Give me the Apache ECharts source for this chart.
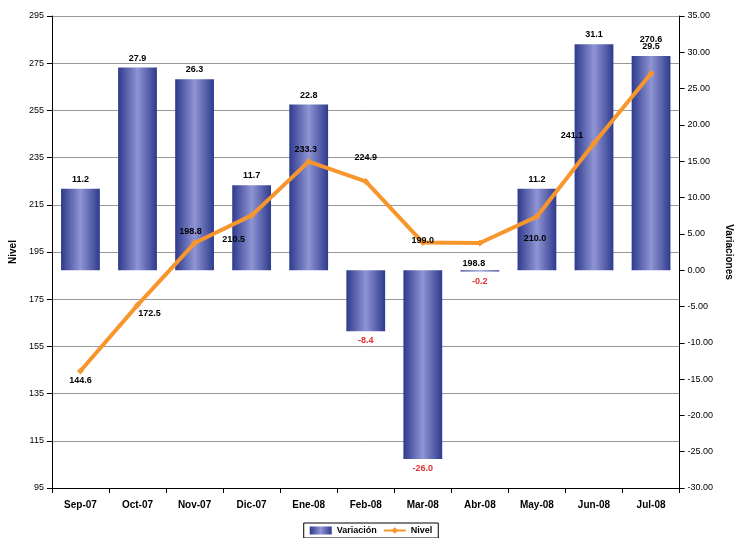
<!DOCTYPE html>
<html><head><meta charset="utf-8">
<script src="https://cdn.jsdelivr.net/npm/echarts@6/dist/echarts.min.js"></script>
<style>html,body{margin:0;padding:0;background:#fff}#c{width:742px;height:538px}</style>
</head><body><div id="c"></div>
<script>
const categories=['Sep-07','Oct-07','Nov-07','Dic-07','Ene-08','Feb-08','Mar-08','Abr-08','May-08','Jun-08','Jul-08'];
const variacion=[11.2,27.9,26.3,11.7,22.8,-8.4,-26.0,-0.2,11.2,31.1,29.5];
const nivel=[144.6,172.5,198.8,210.5,233.3,224.9,199.0,198.8,210.0,241.1,270.6];
const nivelLabelOffsets=[[0,10],[12,8],[-4,-12],[-18,24],[-3,-12],[0,-24],[0,-2],[-6,20],[-2,22],[-22,-8],[0,-34]];
const chart=echarts.init(document.getElementById('c'));
const ff='Liberation Sans';
chart.setOption({
  animation:false,
  textStyle:{fontFamily:ff},
  grid:{left:48,right:56,top:16,bottom:50},
  legend:{bottom:0,left:'center',itemGap:6,itemWidth:22,itemHeight:8,borderColor:'#000',borderWidth:1,padding:[3,6],
    textStyle:{fontSize:9,fontWeight:'bold',color:'#000'},
    data:[{name:'Variación',icon:'rect'},{name:'Nivel'}]},
  xAxis:{type:'category',data:categories,axisTick:{show:true,lineStyle:{color:'#000'}},
    axisLine:{onZero:false,lineStyle:{color:'#000'}},axisLabel:{fontSize:10,fontWeight:'bold',color:'#000',margin:12}},
  yAxis:[
    {type:'value',name:'Nivel',nameLocation:'middle',nameGap:32,nameTextStyle:{fontSize:10,fontWeight:'bold',color:'#000'},
     min:95,max:295,interval:20,axisLine:{show:true,lineStyle:{color:'#000'}},axisTick:{show:true},
     axisLabel:{fontSize:9,color:'#000'},splitLine:{lineStyle:{color:'#999',width:1}}},
    {type:'value',name:'Variaciones',nameLocation:'middle',nameGap:44,nameRotate:-90,nameTextStyle:{fontSize:10,fontWeight:'bold',color:'#000'},
     min:-30,max:35,interval:5,axisLine:{show:true,lineStyle:{color:'#000'}},axisTick:{show:true},
     axisLabel:{fontSize:9,color:'#000',formatter:v=>v.toFixed(2)},splitLine:{show:false}}
  ],
  series:[
    {name:'Variación',type:'bar',yAxisIndex:1,barWidth:'68%',
     itemStyle:{color:new echarts.graphic.LinearGradient(0,0,1,0,[{offset:0,color:'#2e3a8c'},{offset:0.5,color:'#8f95d4'},{offset:1,color:'#2e3a8c'}])},
     data:variacion.map(v=>({value:v,label:{show:true,position:v<0?'bottom':'top',color:v<0?'#e03030':'#000',fontSize:9,fontWeight:'bold',formatter:p=>p.value.toFixed(1)}}))},
    {name:'Nivel',type:'line',yAxisIndex:0,symbol:'diamond',symbolSize:7,
     lineStyle:{color:'#f7962c',width:4},itemStyle:{color:'#f7962c'},
     data:nivel.map((v,i)=>({value:v,label:{show:true,position:'inside',offset:nivelLabelOffsets[i],color:'#000',fontSize:9,fontWeight:'bold',formatter:p=>p.value.toFixed(1)}}))}
  ]
});
</script></body></html>
